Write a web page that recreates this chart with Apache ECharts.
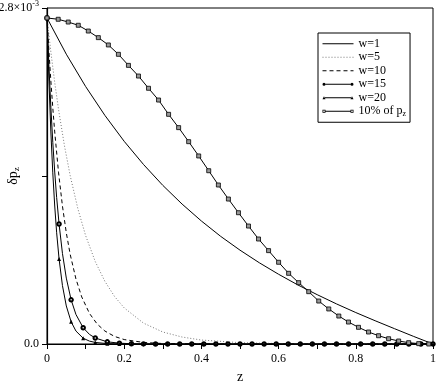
<!DOCTYPE html>
<html>
<head>
<meta charset="utf-8">
<script src="https://cdn.jsdelivr.net/npm/echarts@6/dist/echarts.min.js"></script>
<style>
  html, body { margin: 0; padding: 0; background: #fff; }
  #main { width: 436px; height: 382px; }
</style>
</head>
<body>
<div id="main"></div>
<script>
// all values in units of 1e-3
const zW1 = [0, 0.05, 0.1, 0.15, 0.2, 0.25, 0.3, 0.35, 0.4, 0.45, 0.5, 0.55, 0.6, 0.65, 0.7, 0.75, 0.8, 0.85, 0.9, 0.95, 1];
const w1 = [2.717, 2.415, 2.146, 1.905, 1.689, 1.496, 1.322, 1.166, 1.025, 0.897, 0.782, 0.677, 0.581, 0.492, 0.411, 0.334, 0.262, 0.194, 0.128, 0.063, 0];

const zW5 = [0, 0.01, 0.02, 0.03, 0.045, 0.06, 0.08, 0.1, 0.125, 0.15, 0.175, 0.2, 0.25, 0.3, 0.35, 0.4, 0.5, 0.6, 0.7, 0.8, 0.9, 1];
const w5 = [2.717, 2.434, 2.180, 1.953, 1.656, 1.404, 1.127, 0.904, 0.687, 0.522, 0.396, 0.301, 0.174, 0.100, 0.058, 0.033, 0.011, 0.004, 0.001, 0, 0, 0];

const zW10 = [0, 0.005, 0.01, 0.015, 0.02, 0.03, 0.04, 0.05, 0.06, 0.075, 0.09, 0.11, 0.13, 0.15, 0.175, 0.2, 0.25, 0.3, 0.4, 0.5, 0.7, 1];
const w10 = [2.717, 2.440, 2.191, 1.968, 1.767, 1.426, 1.150, 0.927, 0.748, 0.542, 0.392, 0.255, 0.166, 0.108, 0.063, 0.037, 0.013, 0.004, 0.001, 0, 0, 0];

// markers of w=15 and w=20 sit on every 1/32 of z
const zFast = [0, 0.005, 0.01, 0.015, 0.02, 0.025, 0.03125, 0.04, 0.05, 0.0625, 0.075, 0.09375, 0.11, 0.125, 0.15625, 0.1875, 0.21875, 0.25,
  0.28125, 0.3125, 0.34375, 0.375, 0.40625, 0.4375, 0.46875, 0.5, 0.53125, 0.5625, 0.59375, 0.625, 0.65625, 0.6875,
  0.71875, 0.75, 0.78125, 0.8125, 0.84375, 0.875, 0.90625, 0.9375, 0.96875, 1];
const w15 = [2.717, 2.315, 1.973, 1.681, 1.433, 1.221, 1.000, 0.755, 0.549, 0.368, 0.246, 0.135, 0.080, 0.050, 0.018, 0.007, 0.002, 0.001,
  0, 0, 0, 0, 0, 0, 0, 0, 0, 0, 0, 0, 0, 0, 0, 0, 0, 0, 0, 0, 0, 0, 0, 0];
const w20 = [2.717, 2.191, 1.767, 1.426, 1.150, 0.927, 0.709, 0.487, 0.317, 0.185, 0.108, 0.048, 0.024, 0.013, 0.003, 0.001, 0, 0,
  0, 0, 0, 0, 0, 0, 0, 0, 0, 0, 0, 0, 0, 0, 0, 0, 0, 0, 0, 0, 0, 0, 0, 0];

const zPz = [0, 0.029, 0.055, 0.081, 0.107, 0.133, 0.159, 0.185, 0.211, 0.237, 0.263, 0.289, 0.315, 0.341, 0.367, 0.393, 0.419, 0.444, 0.470,
  0.496, 0.522, 0.548, 0.574, 0.600, 0.626, 0.652, 0.678, 0.704, 0.730, 0.756, 0.781, 0.807, 0.833, 0.859, 0.885, 0.911, 0.937, 0.963, 0.989];
const pz10 = [2.717, 2.706, 2.683, 2.656, 2.608, 2.553, 2.492, 2.414, 2.322, 2.233, 2.131, 2.033, 1.914, 1.803, 1.686, 1.567, 1.444, 1.325, 1.208,
  1.094, 0.983, 0.875, 0.778, 0.681, 0.589, 0.511, 0.436, 0.358, 0.292, 0.233, 0.183, 0.139, 0.100, 0.069, 0.044, 0.025, 0.011, 0.003, 0];

const serif = "'Liberation Serif', 'Times New Roman', serif";

const pairs = (zs, vs) => zs.map((z, i) => [z, vs[i]]);
// show symbol only on the 1/32 grid
const marked = (zs, vs) => zs.map((z, i) => {
  const k = z * 32;
  return Math.abs(k - Math.round(k)) < 1e-6 ? { value: [z, vs[i]] } : { value: [z, vs[i]], symbol: 'none' };
});

const chart = echarts.init(document.getElementById('main'), null, { renderer: 'canvas' });

const option = {
  animation: false,
  backgroundColor: '#fff',
  grid: {
    left: 47, right: 3, top: 8, bottom: 38,
    show: true, borderColor: '#000', borderWidth: 1,
    outerBoundsMode: 'none'
  },
  legend: {
    orient: 'vertical',
    left: 318, top: 33,
    padding: [4, 4, 4, 4],
    itemWidth: 31, itemHeight: 4, itemGap: 0,
    borderColor: '#000', borderWidth: 1,
    lineStyle: { width: 1 },
    textStyle: {
      fontFamily: serif, fontSize: 12, color: '#000', lineHeight: 13.5,
      rich: { sub: { fontFamily: serif, fontSize: 8, padding: [6, 0, 0, 0] } }
    },
    formatter: n => n === '10% of pz' ? '10% of p{sub|z}' : n,
    data: [
      { name: 'w=1', itemStyle: { opacity: 0 } },
      { name: 'w=5', itemStyle: { opacity: 0 } },
      { name: 'w=10', itemStyle: { opacity: 0 } },
      { name: 'w=15', icon: 'path://M0 2a1.5 1.5 0 1 0 3 0a1.5 1.5 0 1 0 -3 0zM3 1.6h25v0.8h-25zM28 2a1.5 1.5 0 1 0 3 0a1.5 1.5 0 1 0 -3 0zM0 0h0.01v4h-0.01z', itemStyle: { color: '#000', borderWidth: 0 } },
      { name: 'w=20', icon: 'path://M0 3.5L1.5 0.5L3 3.5zM2.5 1.6h26v0.8h-26zM28 3.5L29.5 0.5L31 3.5zM0 0h0.01v4h-0.01z', itemStyle: { color: '#000', borderWidth: 0 } },
      { name: '10% of pz', icon: 'path://M0 0.5h3v3h-3zM0.8 1.3v1.4h1.4v-1.4zM3 1.6h25v0.8h-25zM28 0.5h3v3h-3zM28.8 1.3v1.4h1.4v-1.4zM0 0h0.01v4h-0.01z', itemStyle: { color: '#000', borderWidth: 0 } }
    ]
  },
  xAxis: {
    type: 'value', min: 0, max: 1, interval: 0.1,
    name: 'z', nameLocation: 'middle', nameGap: 25,
    nameTextStyle: { fontFamily: serif, fontSize: 14, color: '#000' },
    axisLine: { lineStyle: { color: '#000', width: 1.2 } },
    axisTick: { length: 5, lineStyle: { color: '#000' } },
    splitLine: { show: false },
    axisLabel: {
      fontFamily: serif, fontSize: 12, color: '#000', margin: 9,
      formatter: v => {
        const t = Math.round(v * 10);
        if (t % 2) return '';
        return t === 0 ? '0' : t === 10 ? '1' : (t / 10).toFixed(1);
      }
    }
  },
  yAxis: {
    type: 'value', min: 0, max: 2.8, interval: 1.4,
    name: 'δp{sub|z}', nameLocation: 'middle', nameGap: 26, nameRotate: 90,
    nameMoveOverlap: false,
    nameTextStyle: {
      fontFamily: serif, fontSize: 14, color: '#000',
      rich: { sub: { fontFamily: serif, fontSize: 9, padding: [7, 0, 0, 0] } }
    },
    axisLine: { lineStyle: { color: '#000', width: 1.2 } },
    axisTick: { length: 5, lineStyle: { color: '#000' } },
    splitLine: { show: false },
    axisLabel: {
      fontFamily: serif, fontSize: 12, color: '#000', margin: 8,
      formatter: v => v === 0 ? '0.0' : (Math.abs(v - 2.8) < 1e-6 ? '2.8×10{sup|-3}' : ''),
      rich: { sup: { fontFamily: serif, fontSize: 8, padding: [0, 0, 8, 0] } }
    }
  },
  series: [
    {
      name: 'w=1', type: 'line', data: pairs(zW1, w1), symbol: 'none',
      lineStyle: { color: '#000', width: 1 }, itemStyle: { color: '#000' }
    },
    {
      name: 'w=5', type: 'line', data: pairs(zW5, w5), symbol: 'none',
      lineStyle: { color: '#777', width: 1, type: [1, 2] }, itemStyle: { color: '#777' }
    },
    {
      name: 'w=10', type: 'line', data: pairs(zW10, w10), symbol: 'none',
      lineStyle: { color: '#000', width: 1, type: [4, 3] }, itemStyle: { color: '#000' }
    },
    {
      name: 'w=15', type: 'line', data: marked(zFast, w15), symbol: 'emptyCircle', symbolSize: 3.5,
      lineStyle: { color: '#000', width: 1 }, itemStyle: { color: '#000', borderWidth: 0.8 }
    },
    {
      name: 'w=20', type: 'line', data: marked(zFast, w20), symbol: 'triangle', symbolSize: 4,
      lineStyle: { color: '#000', width: 1 }, itemStyle: { color: '#000' }
    },
    {
      name: '10% of pz', type: 'line', data: pairs(zPz, pz10), symbol: 'rect', symbolSize: 4,
      lineStyle: { color: '#000', width: 1 }, itemStyle: { color: '#999', borderColor: '#000', borderWidth: 0.8 }
    }
  ]
};

chart.setOption(option);
</script>
</body>
</html>
